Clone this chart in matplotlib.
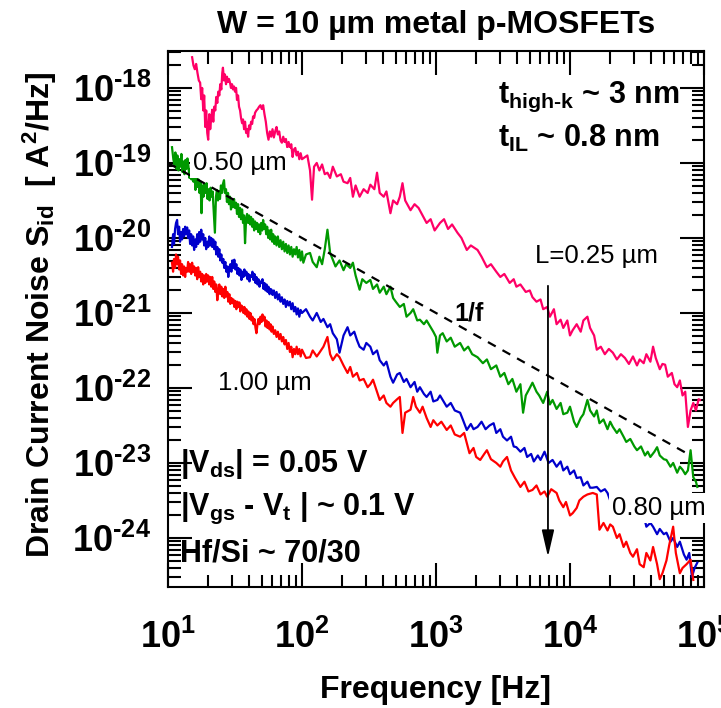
import matplotlib
matplotlib.use('Agg')
import matplotlib.pyplot as plt
import numpy as np
from matplotlib.ticker import FixedLocator, FixedFormatter, LogLocator, NullFormatter

plt.rcParams['font.family'] = ['Liberation Sans', 'DejaVu Sans']
plt.rcParams['mathtext.fontset'] = 'custom'
plt.rcParams['mathtext.rm'] = 'Liberation Sans:bold'
plt.rcParams['mathtext.it'] = 'Liberation Sans:bold'
plt.rcParams['mathtext.bf'] = 'Liberation Sans:bold'
plt.rcParams['mathtext.sf'] = 'Liberation Sans:bold'
plt.rcParams['mathtext.default'] = 'rm'

#%% data, in decades: log10(f [Hz]) and log10(S_id [A^2/Hz])

pink_logf = [1.180, 1.190, 1.200, 1.210, 1.220, 1.230, 1.240, 1.248, 1.255, 1.263, 1.270, 1.278,
             1.285, 1.293, 1.300, 1.308, 1.315, 1.323, 1.330, 1.338, 1.345, 1.353, 1.360, 1.368,
             1.375, 1.383, 1.390, 1.398, 1.405, 1.410, 1.418, 1.425, 1.433, 1.440, 1.448, 1.455,
             1.463, 1.470, 1.478, 1.485, 1.493, 1.500, 1.508, 1.515, 1.523, 1.530, 1.538, 1.545,
             1.553, 1.560, 1.568, 1.575, 1.583, 1.590, 1.598, 1.605, 1.613, 1.620, 1.628, 1.635,
             1.643, 1.650, 1.660, 1.670, 1.680, 1.690, 1.700, 1.710, 1.720, 1.730, 1.740, 1.750,
             1.760, 1.770, 1.780, 1.790, 1.800, 1.810, 1.820, 1.830, 1.840, 1.850, 1.860, 1.870,
             1.880, 1.890, 1.900, 1.910, 1.920, 1.930, 1.940, 1.950, 1.960, 1.970, 1.980, 1.990,
             2.000,
             2.04, 2.06, 2.075, 2.09, 2.11, 2.13, 2.15, 2.17, 2.19, 2.21,
             2.23, 2.26, 2.29, 2.31, 2.34, 2.36, 2.38, 2.40, 2.43, 2.46, 2.49, 2.51, 2.54, 2.56,
             2.58, 2.61, 2.63, 2.66, 2.68, 2.71, 2.73, 2.75, 2.77, 2.81, 2.84, 2.87, 2.90, 2.93,
             2.96, 2.99, 3.03, 3.06, 3.09, 3.12, 3.16, 3.19, 3.23, 3.26, 3.31, 3.34, 3.38, 3.41,
             3.45, 3.48, 3.51, 3.55, 3.58, 3.60, 3.63, 3.67, 3.70, 3.72, 3.75, 3.78, 3.80, 3.83,
             3.85, 3.88, 3.90, 3.93, 3.95, 3.98, 4.00, 4.02, 4.05, 4.08, 4.10, 4.13, 4.15, 4.18,
             4.20, 4.23, 4.26, 4.29, 4.32, 4.35, 4.38, 4.41, 4.44, 4.47, 4.50, 4.52, 4.55, 4.57,
             4.60, 4.62, 4.64, 4.67, 4.69, 4.71, 4.73, 4.76, 4.78, 4.80, 4.82, 4.84, 4.86, 4.88,
             4.90, 4.92, 4.94, 4.96, 4.97]
pink_logs = [-17.59, -17.70, -17.75, -17.68, -17.80, -17.90, -17.93, -18.15, -18.00, -18.30,
             -18.10, -18.52, -18.30, -18.60, -18.69, -18.35, -18.55, -18.40, -18.29, -18.45,
             -18.25, -18.30, -18.12, -18.20, -18.05, -18.10, -17.95, -18.02, -17.80, -17.73,
             -17.90, -17.82, -17.95, -17.85, -17.92, -17.88, -17.93, -18.00, -17.95, -18.02,
             -17.98, -18.05, -18.00, -18.16, -18.10, -18.25, -18.30, -18.40, -18.47, -18.42,
             -18.55, -18.45, -18.60, -18.55, -18.65, -18.50, -18.55, -18.45, -18.48, -18.38,
             -18.40, -18.33, -18.30, -18.28, -18.25, -18.23, -18.28, -18.23, -18.35, -18.45,
             -18.60, -18.69, -18.58, -18.65, -18.55, -18.66, -18.58, -18.52, -18.62, -18.58,
             -18.70, -18.73, -18.65, -18.72, -18.68, -18.79, -18.72, -18.80, -18.75, -18.92,
             -18.82, -18.80, -18.90, -18.85, -18.95, -18.87, -18.95,
             -18.90, -19.10, -19.49, -19.05, -19.00, -19.10, -19.02, -19.15, -19.13, -19.20,
             -19.05, -19.18, -19.15, -19.25, -19.27, -19.20, -19.45, -19.30, -19.45, -19.35,
             -19.40, -19.29, -19.35, -19.13, -19.40, -19.45, -19.38, -19.67, -19.50, -19.55,
             -19.45, -19.27, -19.50, -19.63, -19.55, -19.60, -19.70, -19.80, -19.75, -19.90,
             -19.80, -19.75, -19.88, -19.82, -19.93, -20.00, -20.16, -20.10, -20.16, -20.25,
             -20.39, -20.35, -20.45, -20.52, -20.48, -20.60, -20.55, -20.65, -20.62, -20.72,
             -20.70, -20.79, -20.85, -20.82, -20.95, -20.92, -21.05, -20.95, -21.15, -21.09,
             -21.20, -21.10, -21.30, -21.23, -21.15, -21.25, -21.10, -21.05, -21.20, -21.30,
             -21.49, -21.45, -21.55, -21.48, -21.53, -21.62, -21.55, -21.60, -21.68, -21.58,
             -21.70, -21.62, -21.67, -21.55, -21.65, -21.45, -21.60, -21.75, -21.68, -21.69,
             -21.85, -21.80, -21.95, -21.99, -21.90, -22.10, -22.05, -22.52, -22.30, -22.20,
             -22.30, -22.15, -22.16]

green_logf = [1.030, 1.040, 1.048, 1.055, 1.063, 1.070, 1.078, 1.085, 1.093, 1.100, 1.108, 1.115,
              1.123, 1.130, 1.138, 1.145, 1.153, 1.160, 1.168, 1.175, 1.183, 1.190, 1.198, 1.205,
              1.213, 1.220, 1.228, 1.235, 1.243, 1.250, 1.258, 1.265, 1.273, 1.280, 1.288, 1.295,
              1.303, 1.310, 1.318, 1.325, 1.333, 1.340, 1.350, 1.358, 1.365, 1.373, 1.380, 1.388,
              1.395, 1.403, 1.410, 1.418, 1.425, 1.433, 1.440, 1.448, 1.455, 1.463, 1.470, 1.478,
              1.485, 1.493, 1.500, 1.508, 1.515, 1.523, 1.530, 1.538, 1.545, 1.553, 1.560, 1.568,
              1.575, 1.583, 1.590, 1.598, 1.605, 1.613, 1.620, 1.628, 1.635, 1.643, 1.650, 1.658,
              1.665, 1.673, 1.680, 1.688, 1.695, 1.703, 1.710, 1.718, 1.725, 1.733, 1.740, 1.748,
              1.755, 1.763, 1.770, 1.778, 1.785, 1.793, 1.800, 1.810, 1.820, 1.830, 1.840, 1.850,
              1.860, 1.870, 1.880, 1.890, 1.900, 1.910, 1.920, 1.930, 1.940, 1.950, 1.960, 1.970,
              1.980, 1.990, 2.000,
              2.01, 2.03, 2.06,
              2.08, 2.11, 2.13, 2.15, 2.17, 2.19, 2.21, 2.23, 2.25, 2.28, 2.31, 2.33, 2.36, 2.38,
              2.40, 2.43, 2.45, 2.48, 2.51, 2.53, 2.56, 2.58, 2.61, 2.63, 2.66, 2.68, 2.70, 2.73,
              2.76, 2.78, 2.81, 2.83, 2.86, 2.88, 2.91, 2.93, 2.96, 2.98, 3.00, 3.01, 3.03, 3.05,
              3.08, 3.11, 3.14, 3.18, 3.21, 3.24, 3.27, 3.31, 3.35, 3.38, 3.41, 3.45, 3.48, 3.51,
              3.54, 3.57, 3.60, 3.63, 3.65, 3.67, 3.70, 3.72, 3.75, 3.77, 3.80, 3.83, 3.85, 3.87,
              3.90, 3.93, 3.95, 3.98, 4.00, 4.03, 4.05, 4.08, 4.10, 4.13, 4.15, 4.18, 4.20, 4.22,
              4.25, 4.28, 4.30, 4.32, 4.35, 4.37, 4.40, 4.42, 4.45, 4.48, 4.50, 4.53, 4.56, 4.58,
              4.60, 4.63, 4.65, 4.67, 4.70, 4.72, 4.75, 4.77, 4.80, 4.82, 4.84, 4.86, 4.88, 4.90,
              4.92, 4.94, 4.95]
green_logs = [-18.79, -18.95, -19.02, -18.86, -19.08, -18.90, -19.10, -18.95, -19.05, -18.88,
              -19.12, -18.98, -19.15, -18.96, -19.08, -18.94, -19.05, -19.20, -19.08, -19.22,
              -19.05, -19.25, -19.15, -19.36, -19.18, -19.32, -19.22, -19.40, -19.25, -19.67,
              -19.30, -19.45, -19.28, -19.40, -19.27, -19.48, -19.35, -19.50, -19.33, -19.45,
              -19.38, -19.60, -19.93, -19.45, -19.36, -19.50, -19.38, -19.48, -19.30, -19.40,
              -19.28, -19.23, -19.40, -19.35, -19.52, -19.40, -19.55, -19.45, -19.62, -19.50,
              -19.59, -19.48, -19.60, -19.53, -19.68, -19.55, -19.72, -19.60, -19.75, -19.62,
              -19.80, -19.70, -20.07, -19.75, -19.68, -19.80, -19.70, -19.82, -19.72, -19.85,
              -19.75, -19.90, -19.78, -19.88, -19.80, -19.92, -19.82, -19.95, -19.80, -19.90,
              -19.76, -19.88, -19.82, -19.95, -19.85, -20.00, -19.90, -20.02, -19.89, -20.05,
              -19.95, -20.08, -19.98, -20.10, -19.98, -20.12, -20.03, -20.15, -20.05, -20.18,
              -20.08, -20.20, -20.10, -20.22, -20.12, -20.25, -20.15, -20.22, -20.12, -20.26,
              -20.16, -20.30, -20.18,
              -20.33, -20.22, -20.20,
              -20.32, -20.39, -20.25, -20.35, -20.15, -19.89, -20.20, -20.29, -20.38, -20.30,
              -20.43, -20.35, -20.40, -20.33, -20.50, -20.69, -20.55, -20.60, -20.56, -20.68,
              -20.62, -20.73, -20.65, -20.75, -20.65, -20.80, -20.85, -20.92, -20.88, -21.05,
              -21.00, -20.95, -21.10, -21.09, -21.15, -21.10, -21.19, -21.25, -21.32, -21.53,
              -21.30, -21.27, -21.38, -21.33, -21.45, -21.40, -21.50, -21.45, -21.55, -21.59,
              -21.67, -21.62, -21.75, -21.70, -21.85, -21.80, -21.95, -21.88, -22.05, -21.95,
              -22.33, -22.10, -22.00, -21.93, -22.05, -22.10, -22.20, -22.05, -22.22, -22.16,
              -22.28, -22.20, -22.35, -22.33, -22.25, -22.45, -22.52, -22.40, -22.35, -22.16,
              -22.30, -22.38, -22.30, -22.47, -22.42, -22.55, -22.45, -22.52, -22.60, -22.55,
              -22.65, -22.72, -22.68, -22.78, -22.83, -22.78, -22.90, -22.85, -22.92, -22.85,
              -22.79, -22.90, -22.95, -22.96, -23.05, -23.00, -23.13, -23.05, -23.09, -23.15,
              -23.10, -22.83, -23.19, -23.25, -23.32]

blue_logf = [1.030, 1.038, 1.045, 1.053, 1.060, 1.068, 1.075, 1.083, 1.090, 1.098, 1.105, 1.113,
             1.120, 1.128, 1.135, 1.143, 1.150, 1.158, 1.165, 1.173, 1.180, 1.188, 1.195, 1.203,
             1.210, 1.218, 1.225, 1.233, 1.240, 1.248, 1.255, 1.263, 1.270, 1.278, 1.285, 1.293,
             1.300, 1.308, 1.315, 1.323, 1.330, 1.338, 1.345, 1.353, 1.360, 1.368, 1.375, 1.383,
             1.390, 1.398, 1.405, 1.413, 1.420, 1.428, 1.435, 1.443, 1.450, 1.458, 1.465, 1.473,
             1.480, 1.488, 1.495, 1.503, 1.510, 1.518, 1.525, 1.533, 1.540, 1.548, 1.555, 1.563,
             1.570, 1.578, 1.585, 1.593, 1.600, 1.608, 1.615, 1.623, 1.630, 1.638, 1.645, 1.653,
             1.660, 1.668, 1.675, 1.683, 1.690, 1.698, 1.705, 1.713, 1.720, 1.728, 1.735, 1.743,
             1.750, 1.758, 1.765, 1.773, 1.780, 1.790, 1.800, 1.810, 1.820, 1.830, 1.840, 1.850,
             1.860, 1.870, 1.880, 1.890, 1.900, 1.910, 1.920, 1.930, 1.940, 1.950, 1.960, 1.970,
             1.980, 1.990, 2.000,
             2.03, 2.06, 2.08, 2.11, 2.14, 2.16, 2.19, 2.21, 2.23, 2.26, 2.28, 2.31,
             2.34, 2.36, 2.39, 2.41, 2.43, 2.46, 2.48, 2.51, 2.53, 2.56, 2.58, 2.61, 2.63, 2.66,
             2.68, 2.71, 2.73, 2.76, 2.78, 2.81, 2.84, 2.86, 2.88, 2.91, 2.93, 2.96, 2.98, 3.01,
             3.03, 3.05, 3.08, 3.11, 3.14, 3.18, 3.20, 3.23, 3.26, 3.28, 3.31, 3.34, 3.37, 3.40,
             3.43, 3.45, 3.48, 3.50, 3.53, 3.56, 3.58, 3.60, 3.63, 3.66, 3.68, 3.71, 3.73, 3.76,
             3.78, 3.81, 3.84, 3.87, 3.90, 3.93, 3.95, 3.98, 4.00, 4.03, 4.05, 4.08, 4.10, 4.13,
             4.15, 4.17, 4.20, 4.23, 4.26, 4.28, 4.30, 4.32, 4.35, 4.38, 4.41, 4.44, 4.47, 4.50,
             4.52, 4.55, 4.57, 4.60, 4.62, 4.65, 4.67, 4.70, 4.72, 4.75, 4.77, 4.80, 4.82, 4.85,
             4.87, 4.89, 4.91, 4.93, 4.95]
blue_logs = [-20.12, -19.95, -20.08, -19.88, -19.80, -19.76, -19.95, -19.85, -20.05, -19.92,
             -20.02, -19.88, -19.98, -19.85, -19.95, -19.86, -20.00, -19.90, -20.08, -19.95,
             -20.10, -19.98, -20.16, -20.02, -20.12, -19.95, -20.08, -19.92, -20.05, -19.89,
             -20.02, -19.95, -20.10, -20.00, -20.15, -20.05, -20.12, -19.98, -20.10, -20.00,
             -20.12, -20.02, -20.15, -20.05, -20.22, -20.12, -20.25, -20.15, -20.30, -20.22,
             -20.33, -20.28, -20.40, -20.32, -20.45, -20.38, -20.52, -20.40, -20.35, -20.45,
             -20.30, -20.40, -20.29, -20.42, -20.35, -20.48, -20.40, -20.50, -20.42, -20.56,
             -20.45, -20.52, -20.42, -20.50, -20.45, -20.55, -20.48, -20.58, -20.50, -20.52,
             -20.45, -20.56, -20.48, -20.60, -20.52, -20.62, -20.55, -20.65, -20.58, -20.60,
             -20.55, -20.68, -20.60, -20.70, -20.62, -20.72, -20.65, -20.75, -20.68, -20.69,
             -20.76, -20.70, -20.80, -20.72, -20.82, -20.75, -20.85, -20.79, -20.88, -20.82,
             -20.92, -20.84, -20.90, -20.85, -20.95, -20.87, -20.98, -20.92, -21.02, -20.94,
             -21.05, -20.96, -21.00,
             -20.95, -21.05, -21.10, -21.00, -21.12, -21.08, -21.19, -21.15, -21.27, -21.35,
             -21.53, -21.30, -21.19, -21.30, -21.25, -21.36, -21.45, -21.49, -21.40, -21.45,
             -21.55, -21.50, -21.63, -21.70, -21.65, -21.85, -21.93, -21.82, -21.80, -21.92,
             -21.88, -21.99, -21.92, -22.05, -21.99, -22.08, -22.12, -22.05, -22.18, -22.16,
             -22.10, -22.16, -22.25, -22.20, -22.30, -22.33, -22.42, -22.56, -22.48, -22.55,
             -22.52, -22.45, -22.55, -22.50, -22.47, -22.60, -22.55, -22.65, -22.70, -22.65,
             -22.78, -22.79, -22.85, -22.80, -22.92, -22.88, -22.98, -22.90, -22.96, -22.85,
             -23.00, -22.96, -23.05, -22.98, -23.10, -23.05, -23.15, -23.10, -23.20, -23.19,
             -23.30, -23.25, -23.33, -23.33, -23.32, -23.38, -23.35, -23.40, -23.50, -23.63,
             -23.55, -23.68, -23.60, -23.72, -23.65, -23.78, -23.76, -23.70, -23.85, -23.80,
             -23.85, -23.95, -23.88, -23.95, -23.93, -24.05, -24.00, -24.12, -24.05, -24.22,
             -24.29, -24.20, -24.52, -24.40, -24.33]

red_logf = [1.030, 1.038, 1.045, 1.053, 1.060, 1.068, 1.075, 1.083, 1.090, 1.098, 1.105, 1.113,
            1.120, 1.128, 1.135, 1.143, 1.150, 1.158, 1.165, 1.173, 1.180, 1.188, 1.195, 1.203,
            1.210, 1.218, 1.225, 1.233, 1.240, 1.248, 1.255, 1.263, 1.270, 1.278, 1.285, 1.293,
            1.300, 1.308, 1.315, 1.323, 1.330, 1.338, 1.345, 1.353, 1.360, 1.368, 1.375, 1.383,
            1.390, 1.398, 1.405, 1.413, 1.420, 1.428, 1.435, 1.443, 1.450, 1.458, 1.465, 1.473,
            1.480, 1.488, 1.495, 1.503, 1.510, 1.518, 1.525, 1.533, 1.540, 1.548, 1.555, 1.563,
            1.570, 1.578, 1.585, 1.593, 1.600, 1.608, 1.615, 1.623, 1.630, 1.638, 1.645, 1.653,
            1.660, 1.668, 1.675, 1.683, 1.690, 1.698, 1.705, 1.713, 1.720, 1.728, 1.735, 1.743,
            1.750, 1.758, 1.765, 1.773, 1.780, 1.790, 1.800, 1.810, 1.820, 1.830, 1.840, 1.850,
            1.860, 1.870, 1.880, 1.890, 1.900, 1.910, 1.920, 1.930, 1.940, 1.950, 1.960, 1.970,
            1.980, 1.990, 2.000,
            2.03, 2.06, 2.08, 2.11, 2.13, 2.16, 2.19, 2.21, 2.23, 2.26, 2.28,
            2.31, 2.34, 2.36, 2.38, 2.41, 2.43, 2.46, 2.49, 2.51, 2.53, 2.56, 2.58, 2.61, 2.63,
            2.66, 2.68, 2.71, 2.73, 2.75, 2.77, 2.81, 2.83, 2.85, 2.88, 2.90, 2.93, 2.96, 2.98,
            3.01, 3.04, 3.08, 3.11, 3.14, 3.18, 3.21, 3.25, 3.28, 3.30, 3.33, 3.36, 3.38, 3.41,
            3.45, 3.48, 3.50, 3.53, 3.56, 3.59, 3.63, 3.66, 3.69, 3.72, 3.75, 3.78, 3.81, 3.83,
            3.86, 3.90, 3.92, 3.95, 3.97, 4.00, 4.02, 4.05, 4.07, 4.10, 4.13, 4.17, 4.20, 4.22,
            4.25, 4.28, 4.30, 4.32, 4.35, 4.37, 4.40, 4.42, 4.45, 4.47, 4.50, 4.52, 4.55, 4.57,
            4.60, 4.62, 4.65, 4.67, 4.69, 4.72, 4.74, 4.77, 4.79, 4.82, 4.84, 4.87, 4.90, 4.92]
red_logs = [-20.33, -20.45, -20.28, -20.40, -20.22, -20.35, -20.25, -20.42, -20.30, -20.48,
            -20.35, -20.50, -20.38, -20.52, -20.40, -20.45, -20.32, -20.45, -20.35, -20.48,
            -20.33, -20.45, -20.38, -20.50, -20.40, -20.55, -20.39, -20.52, -20.45, -20.58,
            -20.48, -20.62, -20.50, -20.60, -20.48, -20.58, -20.50, -20.62, -20.52, -20.65,
            -20.52, -20.68, -20.58, -20.72, -20.62, -20.83, -20.70, -20.62, -20.75, -20.65,
            -20.78, -20.68, -20.80, -20.65, -20.78, -20.72, -20.85, -20.75, -20.88, -20.80,
            -20.87, -20.82, -20.92, -20.84, -20.95, -20.85, -20.92, -20.86, -20.98, -20.90,
            -20.92, -21.00, -20.92, -21.02, -20.95, -21.05, -20.98, -21.08, -21.00, -21.10,
            -21.05, -21.15, -21.08, -21.20, -21.27, -21.15, -21.08, -21.15, -21.05, -21.12,
            -21.02, -21.10, -21.05, -21.18, -21.10, -21.20, -21.12, -21.22, -21.15, -21.25,
            -21.18, -21.28, -21.23, -21.32, -21.25, -21.35, -21.28, -21.38, -21.32, -21.42,
            -21.36, -21.48, -21.40, -21.52, -21.45, -21.59, -21.48, -21.55, -21.45, -21.55,
            -21.48, -21.58, -21.49,
            -21.60, -21.59, -21.50, -21.58, -21.53, -21.45, -21.32, -21.55, -21.63, -21.55,
            -21.59, -21.70, -21.80, -21.72, -21.85, -21.80, -21.90, -21.88, -21.99, -21.95,
            -21.89, -22.05, -22.16, -22.10, -22.20, -22.25, -22.20, -22.15, -22.12, -22.60,
            -22.33, -22.29, -22.12, -22.25, -22.33, -22.25, -22.40, -22.52, -22.43, -22.50,
            -22.45, -22.56, -22.50, -22.62, -22.65, -22.60, -22.87, -22.80, -22.92, -22.96,
            -22.88, -22.83, -22.95, -23.00, -23.05, -22.98, -22.92, -23.10, -23.20, -23.32,
            -23.25, -23.38, -23.36, -23.30, -23.42, -23.38, -23.45, -23.35, -23.40, -23.50,
            -23.59, -23.52, -23.70, -23.67, -23.60, -23.50, -23.45, -23.42, -23.40, -23.42,
            -23.89, -23.80, -23.90, -23.82, -23.85, -24.00, -23.95, -24.12, -24.05, -24.20,
            -24.25, -24.15, -24.35, -24.39, -24.20, -24.30, -24.12, -24.35, -24.55, -24.47,
            -24.30, -24.10, -23.85, -24.20, -24.47, -24.40, -24.35, -24.29, -24.56]

# 1/f reference line end points and the L arrow
ref_f = [10, 7.4e4]
ref_s = [1e-19, 1.35e-23]
arrow_f = 6850
arrow_s = [2.3e-21, 5.6e-25]

x_ticks = [1e1, 1e2, 1e3, 1e4, 1e5]
x_ticklabels = [r'$10^{1}$', r'$10^{2}$', r'$10^{3}$', r'$10^{4}$', r'$10^{5}$']
y_ticks = [1e-24, 1e-23, 1e-22, 1e-21, 1e-20, 1e-19, 1e-18]
y_ticklabels = [r'$10^{\text{-}24}$', r'$10^{\text{-}23}$', r'$10^{\text{-}22}$',
                r'$10^{\text{-}21}$', r'$10^{\text{-}20}$', r'$10^{\text{-}19}$',
                r'$10^{\text{-}18}$']

#%%

fig = plt.figure(figsize=(7.21, 7.08), dpi=100)
ax = fig.add_axes([0.233, 0.171, 0.7434, 0.757])

series = [
    (pink_logf, pink_logs, '#ff0066'),
    (green_logf, green_logs, '#009900'),
    (blue_logf, blue_logs, '#0000cc'),
    (red_logf, red_logs, '#ff0000'),
]
for lf, ls, col in series:
    ax.plot(10**np.array(lf), 10**np.array(ls), color=col, lw=1.6)

ax.plot(ref_f, ref_s, color='k', lw=1.6, ls='--', dashes=(4, 3.5))
ax.annotate('', xy=(arrow_f, arrow_s[1]), xytext=(arrow_f, arrow_s[0]),
            arrowprops=dict(arrowstyle='-|>,head_length=0.65,head_width=0.15',
                            mutation_scale=25, color='k', lw=1.3,
                            shrinkA=0, shrinkB=0))

ax.set_xscale('log')
ax.set_yscale('log')
ax.set_xlim(1e1, 1e5)
ax.set_ylim(10**-24.653, 10**-17.507)

ax.xaxis.set_major_locator(FixedLocator(x_ticks))
ax.xaxis.set_major_formatter(FixedFormatter(x_ticklabels))
ax.yaxis.set_major_locator(FixedLocator(y_ticks))
ax.yaxis.set_major_formatter(FixedFormatter(y_ticklabels))
ax.xaxis.set_minor_locator(LogLocator(base=10, subs=range(2, 10), numticks=20))
ax.yaxis.set_minor_locator(LogLocator(base=10, subs=range(2, 10), numticks=20))
ax.xaxis.set_minor_formatter(NullFormatter())
ax.yaxis.set_minor_formatter(NullFormatter())

ax.tick_params(which='both', direction='in', top=True, right=True, width=1.5)
ax.tick_params(which='major', length=17, labelsize=26)
ax.tick_params(which='minor', length=9)
ax.tick_params(axis='x', which='major', pad=24)
ax.tick_params(axis='y', which='major', pad=12)
for sp in ax.spines.values():
    sp.set_linewidth(1.5)

bold = dict(fontsize=22, fontweight='bold', transform=ax.transAxes, va='baseline')
ax.text(0.616, 0.903, r'$t_{high\text{-}k}$ ~ 3 nm', **bold)
ax.text(0.616, 0.821, r'$t_{IL}$ ~ 0.8 nm', **bold)
ax.text(0.022, 0.2146, r'|$V_{ds}$| = 0.05 V', **bold)
ax.text(0.022, 0.134, r'|$V_{gs}$ - $V_{t}$ | ~ 0.1 V', **bold)
ax.text(0.022, 0.0466, 'Hf/Si ~ 70/30', **bold)
ax.text(0.535, 0.498, '1/f', fontsize=18, fontweight='bold',
        transform=ax.transAxes, va='baseline')

plain = dict(fontsize=18.5, transform=ax.transAxes, va='baseline')
box = dict(facecolor='white', edgecolor='none', pad=2)
ax.text(0.047, 0.778, '0.50 µm', bbox=box, zorder=5, **plain)
ax.text(0.685, 0.6045, 'L=0.25 µm', **plain)
ax.text(0.093, 0.3675, '1.00 µm', **plain)
ax.text(0.828, 0.134, '0.80 µm', bbox=box, zorder=5, **plain)

fig.text(436/721, 1 - 25/708, 'W = 10 µm metal p-MOSFETs', fontsize=23,
         fontweight='bold', ha='center', va='center')
fig.text(436/721, 1 - 698/708, 'Frequency [Hz]', fontsize=23,
         fontweight='bold', ha='center', va='baseline')
fig.text(40/721, 1 - 315/708, r'Drain Current Noise $S_{id}$  [ $A^{2}$/Hz]',
         fontsize=23, fontweight='bold', rotation=90, ha='center', va='center')

fig.savefig('out.png', dpi=100)
